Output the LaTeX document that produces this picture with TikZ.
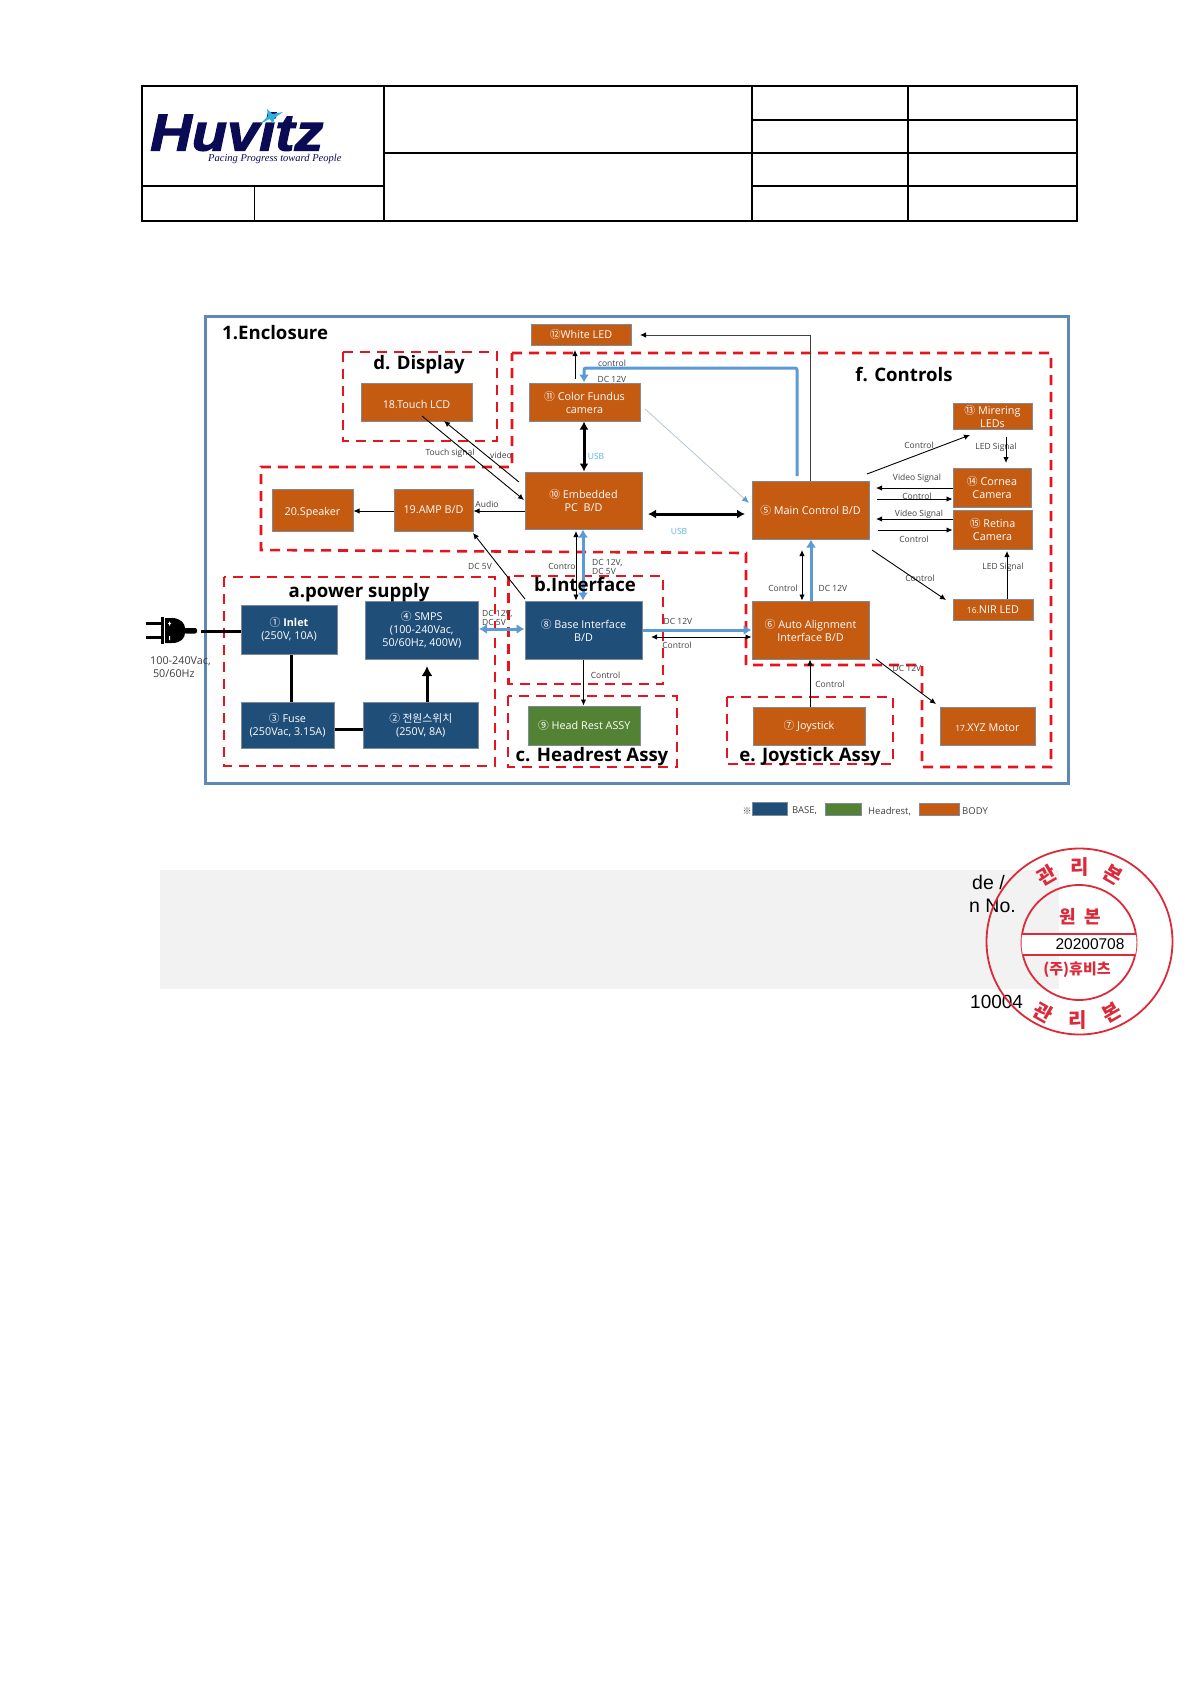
\documentclass[tikz,border=0pt]{standalone}
\usepackage{fontspec}
\setmainfont{Open Sans}
\newfontfamily\cjk{Noto Sans CJK KR}
\newfontfamily\arialf{Liberation Sans}
\newfontfamily\tmsf{Liberation Serif}
\newfontfamily\logof[BoldItalicFeatures={FakeBold=2.2,FakeStretch=1.11}]{Liberation Sans}
\usetikzlibrary{arrows.meta,calc}
\definecolor{orangeb}{HTML}{C55A11}
\definecolor{blueb}{HTML}{1F4E79}
\definecolor{greenb}{HTML}{548235}
\definecolor{edgeb}{HTML}{7C8A99}
\definecolor{redd}{HTML}{E5141E}
\definecolor{wire}{HTML}{5B9BD5}
\definecolor{encl}{HTML}{5F88B5}
\definecolor{navy}{HTML}{0B0B55}
\definecolor{stampr}{HTML}{DC2A3A}
\definecolor{labelg}{HTML}{404040}
\definecolor{barg}{HTML}{F2F2F2}
\definecolor{usbc}{HTML}{5FB3E0}
\definecolor{starc}{HTML}{30B0E0}
\tikzset{
  box/.style={draw=edgeb,line width=1pt,inner sep=0pt,align=center,text=white,font=\fontsize{10.8}{13}\selectfont},
  obox/.style={box,fill=orangeb},
  bbox/.style={box,fill=blueb},
  gbox/.style={box,fill=greenb},
  zone/.style={draw=redd,line width=2.6pt,dash pattern=on 10pt off 7pt},
  ttl/.style={font=\fontsize{18.6}{22}\selectfont\bfseries,text=black,inner sep=0pt},
  lbl/.style={font=\fontsize{8.5}{10}\selectfont,text=labelg,inner sep=0pt,align=left},
  thin wire/.style={draw=black,line width=0.9pt,-{Latex[length=6pt,width=5.5pt]}},
  thin both/.style={draw=black,line width=0.9pt,{Latex[length=6pt,width=5.5pt]}-{Latex[length=6pt,width=5.5pt]}},
  thick wire/.style={draw=black,line width=3pt},
  thick both/.style={draw=black,line width=3pt,{Latex[length=8pt,width=9pt]}-{Latex[length=8pt,width=9pt]}},
  blue one/.style={draw=wire,line width=3pt,-{Latex[length=8pt,width=10pt]}},
  blue both/.style={draw=wire,line width=3pt,{Latex[length=8pt,width=10pt]}-{Latex[length=8pt,width=10pt]}},
  tline/.style={draw=black,line width=1.1pt},
  stampl/.style={draw=stampr,line width=1.7pt},
  stampt/.style={text=stampr,inner sep=0pt,font=\cjk\fontsize{20}{24}\selectfont\bfseries},
}
\newcommand{\bx}[7]{%
  \pgfmathsetmacro\cxx{(#2+#4)/2}\pgfmathsetmacro\cyy{(#3+#5)/2}%
  \node[#6,minimum width={(#4-#2)*1pt},minimum height={(#5-#3)*1pt}] (#1) at (\cxx,\cyy) {#7};}
\newcommand{\lb}[3]{\node[lbl] (#1) at (#2) {#3};}
\begin{document}
\begin{tikzpicture}[x=1pt,y=-1pt]
\useasboundingbox (0,0) rectangle (1190,1684);
\fill[white] (0,0) rectangle (1190,1684);
% ---- title block
\draw[line width=2.5pt] (142,86) rectangle (1077,221);
\draw[tline] (384,86) -- (384,221);
\draw[tline] (752,86) -- (752,221);
\draw[tline] (908,86) -- (908,221);
\draw[tline] (752,120) -- (1077,120);
\draw[tline] (384,153) -- (1077,153);
\draw[tline] (752,186) -- (1077,186);
\draw[tline] (142,186) -- (384,186);
\draw[line width=0.7pt] (254,186) -- (254,221);
\node[anchor=base west,inner sep=0pt,text=navy,font=\logof\fontsize{52}{52}\selectfont\bfseries\itshape] (logo) at (150,150.5) {Huvitz};
\fill[starc] (267,109) -- (272.5,114) -- (283,112) -- (274.5,118) -- (273,123.5) -- (269.5,119) -- (260,124) -- (268,116) -- cycle;
\node[anchor=west,inner sep=0pt,text=navy,font=\tmsf\fontsize{10.5}{12}\selectfont\itshape] (tagline) at (208,159) {Pacing Progress toward People};
% ---- enclosure
\draw[encl,line width=3pt] (205,316) rectangle (1068,783);
\node[ttl,anchor=west] (t1) at (222,333) {1.Enclosure};
% ---- zones
\draw[zone] (343,352) rectangle (497,441);
\draw[zone] (512,353) -- (1051,353) -- (1051,767) -- (922,767) -- (922,665) -- (746,665) -- (746,553) -- (261,550) -- (261,467) -- (512,467) -- cycle;
\draw[zone] (224,577) rectangle (495,766);
\draw[zone] (508.5,576) rectangle (663,684);
\draw[zone] (508,696) rectangle (677,767);
\draw[zone] (727,697) rectangle (893,764);
% ---- blocks
\bx{whiteled}{531}{324}{631}{345}{obox}{{\cjk ⑫}White LED}
\bx{touch}{361}{383}{472}{421}{obox}{\rule{0pt}{13pt}18.Touch LCD}
\bx{fundus}{529}{383}{640}{421}{obox}{{\cjk ⑪} Color Fundus\\camera}
\bx{speaker}{272}{489}{353}{531}{obox}{\rule{0pt}{14pt}20.Speaker}
\bx{amp}{394}{489}{473}{531}{obox}{19.AMP B/D}
\bx{pc}{525}{472}{642}{529}{obox}{{\cjk ⑩} Embedded\\PC\ \ B/D}
\bx{main}{752}{481}{869}{539}{obox}{{\cjk ⑤} Main Control B/D}
\bx{mirror}{953}{403}{1032}{429}{obox}{{\cjk ⑬} Mirering\\LEDs}
\bx{cornea}{953}{468}{1031}{507}{obox}{{\cjk ⑭} Cornea\\Camera}
\bx{retina}{953}{510}{1032}{549}{obox}{{\cjk ⑮} Retina\\Camera}
\bx{nir}{953}{599}{1033}{620}{obox}{{\fontsize{8.5}{10}\selectfont 16.}NIR LED}
\bx{auto}{752}{601}{869}{659}{obox}{{\cjk ⑥} Auto Alignment\\Interface B/D}
\bx{joy}{753}{707}{865}{745}{obox}{{\cjk ⑦} Joystick}
\bx{xyz}{940}{707}{1035}{745}{obox}{\mbox{}\\[-1pt]{\fontsize{8.5}{10}\selectfont 17.}XYZ Motor}
\bx{inlet}{241}{605}{337}{654}{bbox}{{\cjk ①} \textbf{Inlet}\\(250V, 10A)}
\bx{smps}{365}{601}{478.5}{659}{bbox}{{\cjk ④} SMPS\\(100-240Vac,\\50/60Hz, 400W)}
\bx{fuse}{241}{702}{334}{748}{bbox}{{\cjk ③} Fuse\\(250Vac, 3.15A)}
\bx{switch}{363}{702}{478.5}{748}{bbox}{{\cjk ② 전원스위치}\\(250V, 8A)}
\bx{base}{525}{601}{642}{659}{bbox}{{\cjk ⑧} Base Interface\\B/D}
\bx{head}{528.5}{706}{640}{745}{gbox}{{\cjk ⑨} Head Rest ASSY}
% ---- labels
\lb{l01}{612,363}{control}
\lb{l02}{612,379}{DC 12V}
\node[lbl,text=usbc] (l03) at (596,456) {USB};
\node[lbl,text=usbc] (l04) at (679,531) {USB};
\lb{l05}{450,453}{Touch signal}
\lb{l06}{501,455}{video}
\lb{l07}{487,504}{Audio}
\lb{l08}{480,566}{DC 5V}
\lb{l09}{563,566}{Control}
\node[lbl,anchor=west] (l10) at (592,567) {DC 12V,\\[-1pt]DC 5V};
\node[lbl,anchor=west] (l11) at (482,618) {DC 12V,\\[-1pt]DC 5V};
\lb{l12}{605.5,675}{Control}
\lb{l13}{678,621}{DC 12V}
\lb{l14}{677,645}{Control}
\lb{l15}{783,588}{Control}
\lb{l16}{833,588}{DC 12V}
\lb{l17}{830,684}{Control}
\lb{l18}{907,668}{DC 12V}
\lb{l19}{919,445}{Control}
\lb{l20}{996,447}{LED Signal}
\lb{l21}{917,478}{Video Signal}
\lb{l22}{917,496}{Control}
\lb{l23}{919,514}{Video Signal}
\lb{l24}{914,539}{Control}
\lb{l25}{1003,567}{LED Signal}
\lb{l26}{920,578}{Control}
% ---- free connector ends
\coordinate (wa) at (640,335);
\coordinate (wb) at (575,350);
\coordinate (wc) at (575,379);
\coordinate (m1) at (867,474);
\coordinate (m2) at (970,435);
\coordinate (m3) at (1006,437);
\coordinate (m4) at (1006,463);
\coordinate (m5) at (872,550);
\coordinate (m6) at (946,600);
\coordinate (m7) at (876,659);
\coordinate (m8) at (936,704);
\coordinate (m9) at (645,409);
\coordinate (m10) at (749,503);
\coordinate (a1) at (519,482);
\coordinate (a2) at (444,421);
\coordinate (a3) at (422,416);
\coordinate (a4) at (524,500);
\coordinate (a5) at (525,599);
\coordinate (a6) at (473,533);
\coordinate (plugend) at (201,631);
% ---- power connectors
\draw[thick wire] (plugend) -- (inlet.west |- plugend);
\draw[thick wire] (291.5,0 |- inlet.south) -- (291.5,0 |- fuse.north);
\draw[thick wire] (fuse.east |- 0,729) -- (switch.west |- 0,729);
\draw[draw=black,line width=3pt,-{Latex[length=10pt,width=11pt]}] (427,0 |- switch.north) -- (427,666);
\draw[blue both] (smps.east |- 0,629) -- (base.west |- 0,629);
\draw[thin wire] (a5) -- (a6);
\draw[blue both] (583,0 |- base.north) -- (583,0 |- pc.south);
\draw[thin both] (576,0 |- base.north) -- (576,531);
\draw[thin wire] (583.5,0 |- base.south) -- (583.5,0 |- head.north);
\draw[blue one] (base.east |- 0,630) -- (auto.west |- 0,630);
\draw[thin both] (651,637) -- (auto.west |- 0,637);
% ---- PC connectors
\draw[thin wire] (pc.west |- 0,511) -- (amp.east |- 0,511);
\draw[thin wire] (amp.west |- 0,511) -- (speaker.east |- 0,511);
\draw[thin wire] (a1) -- (a2);
\draw[thin wire] (a3) -- (a4);
\draw[thick both] (584,0 |- fundus.south) -- (584,0 |- pc.north);
\draw[thin wire] (wc) -- (wb);
\draw[thick both] (648,514) -- (745,514);
% ---- main control connectors
\draw[draw=black!75,line width=1pt,-{Latex[length=6pt,width=5.5pt,color=black]}] (810,0 |- main.north) -- (810,335) -- (wa);
\draw[blue one,rounded corners=2pt] (797,476) -- (797,368) -- (584,368) -- (584,0 |- fundus.north);
\draw[draw=wire!50!gray!50,line width=0.8pt,-{Latex[length=7pt,width=6pt,color=wire]}] (m9) -- (m10);
\draw[thin both] (802,550) -- (802,0 |- auto.north);
\draw[blue one] (811,0 |- auto.north) -- (811,0 |- main.south);
\draw[thin wire] (810,0 |- joy.north) -- (810,0 |- auto.south);
\draw[thin wire] (m1) -- (m2);
\draw[thin wire] (m3) -- (m4);
\draw[thin wire] (cornea.west |- 0,488) -- (876,488);
\draw[thin wire] (877,499) -- (cornea.west |- 0,499);
\draw[thin wire] (retina.west |- 0,519) -- (876,519);
\draw[thin wire] (878,530) -- (retina.west |- 0,530);
\draw[thin wire] (1007,0 |- nir.north) -- (1007,551);
\draw[thin wire] (m5) -- (m6);
\draw[thin wire] (m7) -- (m8);
% ---- zone titles
\node[ttl] (td) at (419,365) {d. Display};
\node[ttl] (tf) at (904,375) {f. Controls};
\node[ttl] (ta) at (359,593) {a.power supply};
\node[ttl] (tb) at (585,584.5) {b.Interface};
\node[ttl] (tc) at (592,757) {c. Headrest Assy};
\node[ttl] (te) at (810,757) {e. Joystick Assy};
% ---- plug
\fill[black] (146,621.5) rectangle (161,624.5);
\fill[black] (146,636) rectangle (161,639);
\fill[black] (161,617) rectangle (164,644);
\fill[black] (165,618) -- (172,618) .. controls (181,618) and (185,624) .. (185,628) -- (185,633) .. controls (185,638) and (181,643) .. (172,643) -- (165,643) -- cycle;
\fill[black,rounded corners=2pt] (184,628) rectangle (197,633.5);
\fill[white] (168,623) rectangle (171,624) (169,621.5) rectangle (170,625.5) (169,636) rectangle (170,640);
\node[inner sep=0pt,anchor=west,text=labelg,font=\fontsize{10.8}{13}\selectfont,align=left] (volt) at (150,667) {100-240Vac,\\\ 50/60Hz};
% ---- legend
\fill[blueb,draw=edgeb,line width=0.8pt] (752,802) rectangle (787,815);
\fill[greenb,draw=edgeb,line width=0.8pt] (825,803) rectangle (861,815);
\fill[orangeb,draw=edgeb,line width=0.8pt] (919,803) rectangle (959,815);
\node[lbl,text=labelg,font=\cjk\fontsize{9}{10}\selectfont] (refm) at (747,811) {※};
\node[lbl,anchor=west,font=\fontsize{9.5}{10}\selectfont] (lg1) at (792,811) {BASE,};
\node[lbl,anchor=west,font=\fontsize{9.5}{10}\selectfont] (lg2) at (868,811) {Headrest,};
\node[lbl,anchor=west,font=\fontsize{9.5}{10}\selectfont] (lg3) at (962,811) {BODY};
% ---- lower bar
\fill[barg] (160,870) rectangle (1059,989);
\node[anchor=west,inner sep=0pt,font=\arialf\fontsize{19.5}{22}\selectfont] (b1) at (972,883) {de /};
\node[anchor=west,inner sep=0pt,font=\arialf\fontsize{19.5}{22}\selectfont] (b2) at (969,906) {n No.};
\node[anchor=west,inner sep=0pt,font=\arialf\fontsize{19}{22}\selectfont] (b3) at (970,1002) {10004};
% ---- stamp
\draw[stampl,line width=1.8pt] (1079.5,941.5) circle[radius=93];
\draw[stampl,line width=1.8pt] (1079,942.5) circle[radius=57.5];
\begin{scope}
\clip (1079,942.5) circle[radius=57.5];
\fill[white] (1020,934) rectangle (1140,955);
\draw[stampl,line width=2pt] (1020,934) -- (1140,934) (1020,955) -- (1140,955);
\end{scope}
\node[stampt,rotate=30] (s1) at (1047,875) {관};
\node[stampt] (s2) at (1080,867) {리};
\node[stampt,rotate=-30] (s3) at (1113,875) {본};
\node[stampt,rotate=-30] (s4) at (1043,1012) {관};
\node[stampt] (s5) at (1078,1020) {리};
\node[stampt,rotate=30] (s6) at (1112,1013) {본};
\node[stampt,font=\cjk\fontsize{18}{22}\selectfont\bfseries] (s7) at (1080,917) {원\ \ 본};
\node[anchor=center,inner sep=0pt,font=\arialf\fontsize{15.5}{18}\selectfont] (s8) at (1090,944) {20200708};
\node[stampt,font=\cjk\fontsize{15}{18}\selectfont\bfseries] (s9) at (1077,970) {(주)휴비츠};
\end{tikzpicture}
\end{document}
